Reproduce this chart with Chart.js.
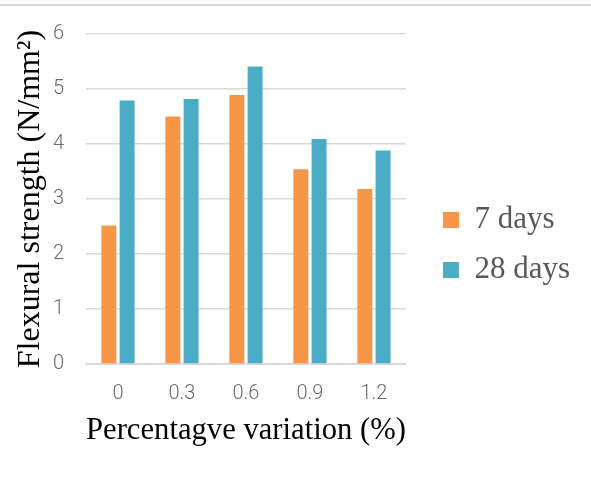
<!DOCTYPE html>
<html>
<head>
<meta charset="utf-8">
<script src="https://cdn.jsdelivr.net/npm/chart.js@4.4.1/dist/chart.umd.min.js"></script>
<style>
  html, body { margin: 0; padding: 0; background: #ffffff; }
  #wrap { position: relative; width: 591px; height: 479px; }
  #c { position: absolute; left: 0; top: 0; }
  #topline { position: absolute; left: 0; top: 4px; width: 591px; height: 2px; background: #d9d9d9; }
</style>
</head>
<body>
<div id="wrap">
  <canvas id="c" width="591" height="479"></canvas>
  <div id="topline"></div>
</div>
<script>
const categories = ['0', '0.3', '0.6', '0.9', '1.2'];
const seriesNames = ['7 days', '28 days'];
const days7 = [2.52, 4.50, 4.89, 3.54, 3.18];
const days28 = [4.79, 4.82, 5.41, 4.09, 3.88];
const yTicks = [0, 1, 2, 3, 4, 5, 6];
const xTitle = 'Percentagve variation (%)';
const yTitle = 'Flexural strength (N/mm²)';

const serif = "'Liberation Serif', 'Times New Roman', serif";
const sans = "Roboto, 'Open Sans', sans-serif";

new Chart(document.getElementById('c'), {
  type: 'bar',
  data: {
    labels: categories,
    datasets: [
      { label: seriesNames[0], data: days7, backgroundColor: '#F79646', borderWidth: 0,
        categoryPercentage: 0.57, barPercentage: 0.82 },
      { label: seriesNames[1], data: days28, backgroundColor: '#4BACC6', borderWidth: 0,
        categoryPercentage: 0.57, barPercentage: 0.82 }
    ]
  },
  options: {
    responsive: false,
    animation: false,
    layout: { padding: { top: 20, right: 11, bottom: 9, left: 11 } },
    plugins: {
      tooltip: { enabled: false },
      legend: {
        position: 'right',
        align: 'center',
        maxWidth: 220,
        labels: {
          boxWidth: 16,
          boxHeight: 16,
          padding: 19,
          color: '#595959',
          font: { family: serif, size: 31 }
        }
      }
    },
    scales: {
      x: {
        grid: { display: false, drawTicks: false },
        border: { display: true, color: '#d9d9d9', width: 2 },
        ticks: { color: '#6b6b6b', font: { family: sans, size: 20, weight: 300 }, padding: 18 },
        title: { display: true, text: xTitle, color: '#000000', font: { family: serif, size: 32 }, padding: { top: 0, bottom: 20 } },
        afterFit: (s) => { s.height = 106; }
      },
      y: {
        min: 0, max: 6,
        afterBuildTicks: (s) => { s.ticks = yTicks.map(v => ({ value: v })); },
        grid: { color: '#d9d9d9', lineWidth: 1.5, drawTicks: false },
        border: { display: false },
        ticks: { color: '#6b6b6b', font: { family: sans, size: 20, weight: 300 }, padding: 22 },
        title: { display: true, text: yTitle, color: '#000000', font: { family: serif, size: 32 }, padding: { top: 0, bottom: 0 } },
        afterFit: (s) => { s.width = 75; }
      },
      gap: {
        type: 'linear',
        position: 'right',
        display: true,
        grid: { display: false, drawTicks: false },
        border: { display: false },
        ticks: { display: false },
        afterFit: (s) => { s.width = 18; }
      }
    }
  }
});
</script>
</body>
</html>
